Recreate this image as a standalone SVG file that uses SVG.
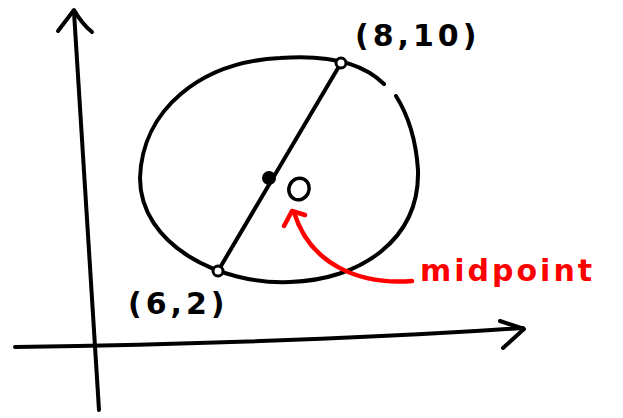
<svg xmlns="http://www.w3.org/2000/svg" width="623" height="418" viewBox="0 0 623 418">
<style>
.ink{fill:none;stroke:#000;stroke-width:4;stroke-linecap:round;stroke-linejoin:round}
.red{fill:none;stroke:#f00;stroke-width:4.5;stroke-linecap:round;stroke-linejoin:round}
.lbl{font-family:"Comic Sans MS","DejaVu Sans",sans-serif;font-size:30px;font-weight:bold;fill:#000;letter-spacing:4px}
.rl{font-family:"Comic Sans MS","DejaVu Sans",sans-serif;font-size:30px;font-weight:bold;fill:#f00;letter-spacing:3px}
</style>
<rect width="623" height="418" fill="#fff"/>
<g id="axes">
<path class="ink" d="M99 410 L74 12"/>
<path class="ink" d="M58 31 L74 10 Q82 24 92 32"/>
<path class="ink" d="M15 347 Q300 343 523 328"/>
<path class="ink" d="M500 321 L524 329 L503 348"/>
</g>
<g id="circle">
<path class="ink" d="M384 84 C360 60 320 55 280 58 C200 62 142 110 140 178 C140 245 220 285 290 282 C360 280 420 240 418 170 C416 140 408 115 396 96"/>
</g>
<g id="connectors">
<path class="ink" d="M218 271 L341 63"/>
</g>
<g id="p810">
<circle cx="341" cy="63" r="5" fill="#fff" stroke="#000" stroke-width="3"/>
<text class="lbl" x="355" y="46">(8,10)</text>
</g>
<g id="p62">
<circle cx="218" cy="271" r="5" fill="#fff" stroke="#000" stroke-width="3"/>
<text class="lbl" x="128" y="314" letter-spacing="8">(6,2)</text>
</g>
<g id="mid">
<circle cx="269" cy="178" r="7" fill="#000"/>
<ellipse cx="299" cy="189" rx="10" ry="11" transform="rotate(25 299 189)" fill="none" stroke="#000" stroke-width="3.5"/>
</g>
<g id="midpoint">
<path class="red" d="M412 281 C360 285 310 265 294 212"/>
<path class="red" d="M284 226 L292 211 L305 215"/>
<text class="rl" x="420" y="281">midpoint</text>
</g>
</svg>
